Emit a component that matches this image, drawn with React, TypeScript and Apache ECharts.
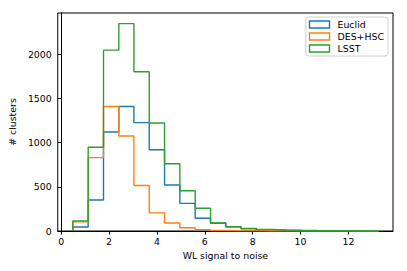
import React, { useEffect, useRef } from "react";
import * as echarts from "echarts";

const binEdges = [0.49, 1.13, 1.77, 2.41, 3.04, 3.68, 4.32, 4.96, 5.6, 6.24, 6.88, 7.51, 8.15, 8.79, 9.43, 10.07, 10.71, 11.34, 11.98, 12.62, 13.26];
const euclid = [45, 350, 1120, 1408, 1225, 918, 520, 312, 145, 88, 48, 25, 14, 8, 4, 2, 1, 1, 0, 0];
const desHsc = [105, 830, 1408, 1075, 515, 205, 91, 36, 15, 6, 2, 1, 0, 0, 0, 0, 0, 0, 0, 0];
const lsst = [114, 947, 2045, 2345, 1800, 1222, 760, 455, 258, 90, 48, 30, 18, 12, 8, 5, 4, 2, 2, 1];
const seriesNames = ["Euclid", "DES+HSC", "LSST"];
const seriesColors = ["#1f77b4", "#ff7f0e", "#2ca02c"];
const xTicks = [0, 2, 4, 6, 8, 10, 12];
const yTicks = [0, 500, 1000, 1500, 2000];

function stepPoints(vals: number[]) {
  const pts: number[][] = [[binEdges[0], 0]];
  vals.forEach((v, i) => {
    pts.push([binEdges[i], v]);
    pts.push([binEdges[i + 1], v]);
  });
  pts.push([binEdges[binEdges.length - 1], 0]);
  return pts;
}

const FONT = "DejaVu Sans";
const FS = 9.4;

export default function App() {
  const ref = useRef<HTMLDivElement>(null);
  useEffect(() => {
    if (!ref.current) return;
    const chart = echarts.init(ref.current, undefined, { renderer: "svg" });
    const all = [euclid, desHsc, lsst];
    chart.setOption({
      animation: false,
      backgroundColor: "#fff",
      grid: {
        left: 54,
        right: 14,
        top: 13,
        bottom: 40,
        show: true,
        borderColor: "#000",
        borderWidth: 1,
        backgroundColor: "transparent",
      },
      legend: {
        orient: "vertical",
        right: 19,
        top: 17,
        data: seriesNames.map((n, i) => ({
          name: n,
          icon: "rect",
          itemStyle: { color: "transparent", borderColor: seriesColors[i], borderWidth: 1.4 },
        })),
        itemWidth: 20,
        itemHeight: 7,
        itemGap: 3,
        padding: [3, 4, 3, 3],
        backgroundColor: "#fff",
        borderColor: "#d0d0d0",
        borderWidth: 1,
        borderRadius: 3,
        textStyle: { fontFamily: FONT, fontSize: FS, color: "#000", padding: [0, 0, 0, 3] },
      },
      xAxis: {
        type: "value",
        min: -0.14,
        max: 13.86,
        name: "WL signal to noise",
        nameLocation: "middle",
        nameGap: 19,
        nameTextStyle: { fontFamily: FONT, fontSize: FS, color: "#000" },
        axisLine: { show: true, lineStyle: { color: "#000", width: 1 } },
        axisTick: { show: true, length: 3.5, lineStyle: { color: "#000", width: 1 }, customValues: xTicks },
        axisLabel: {
          fontFamily: FONT, fontSize: FS, color: "#000", margin: 6, customValues: xTicks,
          formatter: (v: number) => String(v),
        },
        splitLine: { show: false },
      },
      yAxis: {
        type: "value",
        min: 0,
        max: 2465,
        name: "# clusters",
        nameLocation: "middle",
        nameGap: 34,
        nameTextStyle: { fontFamily: FONT, fontSize: FS, color: "#000" },
        axisLine: { show: true, lineStyle: { color: "#000", width: 1 } },
        axisTick: { show: true, length: 3.5, lineStyle: { color: "#000", width: 1 }, customValues: yTicks },
        axisLabel: {
          fontFamily: FONT, fontSize: FS, color: "#000", margin: 6, customValues: yTicks,
          formatter: (v: number) => String(v),
        },
        splitLine: { show: false },
      },
      series: all.map((vals, i) => ({
        name: seriesNames[i],
        type: "line",
        data: stepPoints(vals),
        showSymbol: false,
        symbol: "none",
        z: 2 + i,
        lineStyle: { color: seriesColors[i], width: 1.4 },
        itemStyle: { color: seriesColors[i] },
      })),
    });
    return () => chart.dispose();
  }, []);
  return <div ref={ref} style={{ position: "fixed", left: 0, top: 0, width: 407, height: 271 }} />;
}
